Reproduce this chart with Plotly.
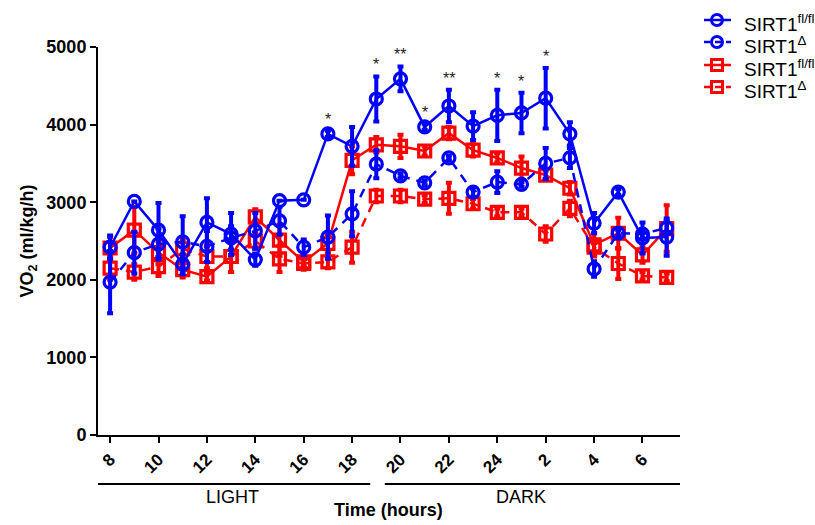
import plotly.graph_objects as go

# Hour of day at each sampling point (index 0..23)
hours = [8, 9, 10, 11, 12, 13, 14, 15, 16, 17, 18, 19, 20, 21, 22, 23, 24, 1, 2, 3, 4, 5, 6, 7]
tick_labels = ["8", "10", "12", "14", "16", "18", "20", "22", "24", "2", "4", "6"]

# VO2 (ml/kg/h), mean and SEM per group
blue_flfl = [2420, 3010, 2640, 2200, 2740, 2590, 2260, 3020, 3030, 3880, 3720, 4330,
             4590, 3970, 4240, 3980, 4120, 4150, 4340, 3880, 2730, 3130, 2540, 2550]
blue_flfl_err = [150, 0, 350, 130, 310, 270, 80, 0, 0, 40, 250, 290,
                 160, 40, 210, 180, 330, 260, 390, 150, 130, 40, 200, 240]

blue_delta = [1970, 2350, 2460, 2490, 2430, 2540, 2630, 2760, 2420, 2550, 2850, 3490,
              3340, 3250, 3570, 3130, 3260, 3230, 3500, 3570, 2140, 2600, 2590, 2670]
blue_delta_err = [400, 270, 200, 330, 200, 150, 230, 180, 100, 280, 290, 180,
                  30, 30, 30, 60, 140, 30, 200, 130, 100, 40, 60, 80]

red_flfl = [2410, 2640, 2350, 2130, 2040, 2300, 2810, 2510, 2230, 2470, 3540, 3740,
            3720, 3660, 3890, 3670, 3570, 3440, 3350, 3180, 2450, 2600, 2320, 2660]
red_flfl_err = [140, 300, 150, 100, 50, 200, 100, 200, 60, 120, 180, 100,
                150, 60, 80, 80, 60, 150, 60, 80, 150, 200, 100, 300]

red_delta = [2150, 2100, 2170, 2400, 2300, 2300, 2500, 2270, 2210, 2230, 2420, 3080,
             3080, 3040, 3050, 2980, 2870, 2870, 2590, 2920, 2420, 2210, 2050, 2030]
red_delta_err = [150, 100, 120, 120, 150, 200, 100, 170, 80, 80, 200, 80,
                 80, 50, 200, 60, 50, 50, 100, 100, 100, 200, 50, 50]

# Significance marks (index, label)
stars = [(9, "*"), (11, "*"), (12, "**"), (13, "*"), (14, "**"), (16, "*"), (17, "*"), (18, "*")]

# Legend entries: label, colour, marker, line dash
legend_items = [
    ("SIRT1<sup>fl/fl</sup>", "#0000FF", "circle", "solid"),
    ("SIRT1<sup>Δ</sup>", "#0000FF", "circle", "dash"),
    ("SIRT1<sup>fl/fl</sup>", "#FF0000", "square", "solid"),
    ("SIRT1<sup>Δ</sup>", "#FF0000", "square", "dash"),
]

x = list(range(len(hours)))
BLUE = "#0000FF"
RED = "#FF0000"
FONT = "Liberation Sans, Arial, sans-serif"
DASH = "9px,7px"

W, H = 815, 525
ML, MR, MT, MB = 98, 135, 47, 90
PW, PH = W - ML - MR, H - MT - MB


def px_to_paper(px, py):
    return (px - ML) / PW, (H - MB - py) / PH


fig = go.Figure()


def add_series(y, err, color, symbol, dash):
    fig.add_trace(go.Scatter(
        x=x, y=y, mode="lines+markers", showlegend=False,
        line=dict(color=color, width=2.5, dash=dash),
        marker=dict(symbol=symbol, size=12, color=color, line=dict(width=3.2)),
        error_y=dict(type="data", array=err, color=color, thickness=4, width=3),
    ))


# Red drawn first so the blue series sit on top
add_series(red_delta, red_delta_err, RED, "square-open", DASH)
add_series(red_flfl, red_flfl_err, RED, "square-open", "solid")
add_series(blue_delta, blue_delta_err, BLUE, "circle-open", DASH)
add_series(blue_flfl, blue_flfl_err, BLUE, "circle-open", "solid")

annotations = []
for i, s in stars:
    annotations.append(dict(x=i, y=blue_flfl[i] + blue_flfl_err[i], text=s,
                            showarrow=False, yanchor="bottom", yshift=1,
                            font=dict(family=FONT, size=16, color="#222")))

# Light / dark phase labels below the axis
annotations += [
    dict(x=5.05, y=-0.16, xref="x", yref="paper", text="LIGHT", showarrow=False,
         yanchor="middle", font=dict(family=FONT, size=18, color="black")),
    dict(x=17.0, y=-0.16, xref="x", yref="paper", text="DARK", showarrow=False,
         yanchor="middle", font=dict(family=FONT, size=18, color="black")),
    dict(x=11.5, y=-0.193, xref="x", yref="paper", text="<b>Time (hours)</b>",
         showarrow=False, yanchor="middle",
         font=dict(family=FONT, size=18, color="black")),
]

shapes = [
    dict(type="line", xref="x", yref="paper", x0=-0.5, x1=10.75, y0=-0.126, y1=-0.126,
         line=dict(color="black", width=2)),
    dict(type="line", xref="x", yref="paper", x0=11.35, x1=23.55, y0=-0.126, y1=-0.126,
         line=dict(color="black", width=2)),
]

# Key in the top-right corner
row_y = [20, 42, 65, 87]
for (label, color, mk, dash), ry in zip(legend_items, row_y):
    lx0, ly = px_to_paper(704, ry)
    lx1, _ = px_to_paper(731, ry)
    shapes.append(dict(type="line", xref="paper", yref="paper", x0=lx0, x1=lx1, y0=ly, y1=ly,
                       line=dict(color=color, width=2.5,
                                 dash="solid" if dash == "solid" else "6px,5px")))
    cx0, cy0 = px_to_paper(717 - 5.5, ry + 5.5)
    cx1, cy1 = px_to_paper(717 + 5.5, ry - 5.5)
    shapes.append(dict(type="circle" if mk == "circle" else "rect",
                       xref="paper", yref="paper", x0=cx0, x1=cx1, y0=cy0, y1=cy1,
                       line=dict(color=color, width=3), fillcolor="rgba(0,0,0,0)"))
    tx, ty = px_to_paper(742, ry)
    annotations.append(dict(x=tx, y=ty, xref="paper", yref="paper", text=label,
                            showarrow=False, xanchor="left", yanchor="middle", yshift=-3,
                            font=dict(family=FONT, size=19, color="black")))

fig.update_layout(
    width=W, height=H,
    margin=dict(l=ML, r=MR, t=MT, b=MB),
    plot_bgcolor="white", paper_bgcolor="white",
    font=dict(family=FONT, size=14, color="black"),
    showlegend=False,
    annotations=annotations,
    shapes=shapes,
)

fig.update_xaxes(
    range=[-0.5, 23.55], tickmode="array", tickvals=x[::2], ticktext=tick_labels,
    tickangle=-45, ticks="outside", ticklen=6, tickwidth=2, tickcolor="black",
    showline=True, linewidth=2, linecolor="black", showgrid=False, zeroline=False,
    tickfont=dict(family=FONT, size=17, color="black", weight="bold"),
)
fig.update_yaxes(
    range=[0, 5000], tickvals=[0, 1000, 2000, 3000, 4000, 5000],
    ticks="outside", ticklen=6, tickwidth=2, tickcolor="black",
    showline=True, linewidth=2, linecolor="black", showgrid=False, zeroline=False,
    tickfont=dict(family=FONT, size=18, color="black", weight="bold"),
    automargin=True,
    title=dict(text="<b>VO<sub>2</sub> (ml/kg/h)</b>", standoff=8,
               font=dict(family=FONT, size=18, color="black")),
)

fig.write_html("out.html")
